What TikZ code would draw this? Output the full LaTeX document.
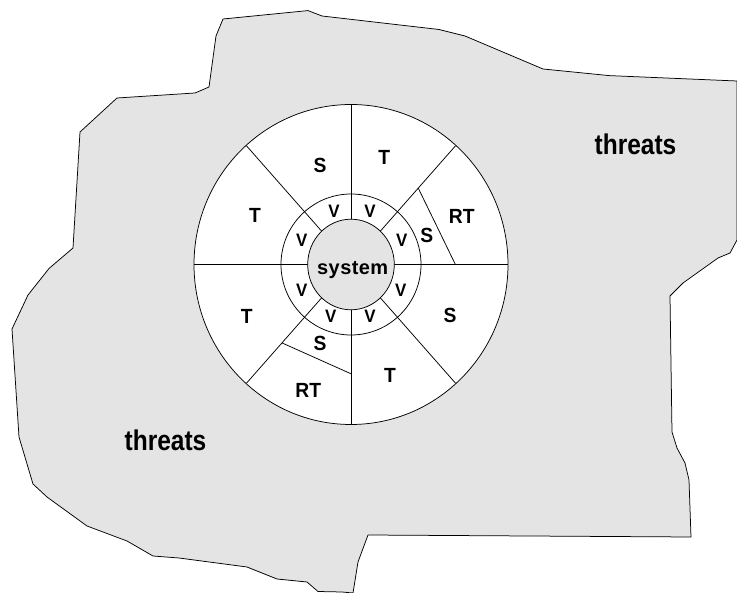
\documentclass[tikz,border=0pt]{standalone}
\usepackage{fontspec}
\setmainfont{Liberation Sans}
\newfontfamily\thrfont{Liberation Sans}[FakeStretch=0.86]
\newfontfamily\sysfont{Liberation Sans}[LetterSpace=2]
\newfontfamily\labfont{Liberation Sans}[FakeStretch=0.94]
\usetikzlibrary{calc,shapes.geometric}
\definecolor{bg}{RGB}{228,228,228}
\tikzset{
  edge/.style={draw=black, line width=0.75pt, line join=round},
  lab/.style={font=\labfont\bfseries\fontsize{20.5}{20.5}\selectfont, inner sep=0pt},
  vlab/.style={font=\labfont\bfseries\fontsize{18}{18}\selectfont, inner sep=0pt},
  thr/.style={font=\thrfont\bfseries\fontsize{28.5}{28.5}\selectfont, inner sep=0pt},
  sysl/.style={font=\sysfont\bfseries\fontsize{20}{20}\selectfont, inner sep=0pt}
}
\begin{document}
\begin{tikzpicture}[x=1pt,y=-1pt]
\useasboundingbox (0,0) rectangle (737,593);
% threat region
\path[edge, fill=bg] (223,19) -- (308,10.6) -- (322,16) -- (439,29.5) -- (465,36) -- (543,69) -- (609,75.6) -- (737,81) -- (737,240) -- (730,253) -- (718,258) -- (683,283) -- (670,296) -- (672,432) -- (677,448) -- (685,463) -- (689,480) -- (691,537) -- (368,535) -- (358,562) -- (353,593) -- (342,592) -- (318,591.5) -- (307,582) -- (277,579) -- (247,567) -- (179,558) -- (153,556) -- (127,541) -- (87,526) -- (47,497) -- (33,484) -- (19,437) -- (12,329) -- (28,295) -- (49,268.5) -- (73,248) -- (80,132) -- (117,98) -- (195,93) -- (209,87) -- (216,36) -- cycle;
% circles
\coordinate (C) at (351,264.5);
\path[edge, fill=white] (C) ellipse [x radius=157, y radius=160];
\coordinate (E) at ($(C)+(157,0)$);
\coordinate (W) at ($(C)+(-157,0)$);
\coordinate (N) at ($(C)+(0,-160)$);
\coordinate (S) at ($(C)+(0,160)$);
\coordinate (NE) at ($(C)+(104.6,-118.8)$);
\coordinate (NW) at ($(C)+(-104.6,-118.8)$);
\coordinate (SE) at ($(C)+(104.6,118.8)$);
\coordinate (SW) at ($(C)+(-104.6,118.8)$);
\foreach \p in {E,W,N,S,NE,NW,SE,SW} \draw[edge] (C) -- (\p);
\draw[edge] (C) ellipse [x radius=70, y radius=70.5];
% sub-sector lines
\coordinate (a1) at ($(C)!0.643!(NE)$);
\coordinate (a2) at ($(C)!0.665!(E)$);
\draw[edge] (a1) -- (a2);
\coordinate (b1) at ($(C)!0.66!(SW)$);
\coordinate (b2) at ($(C)!0.683!(S)$);
\draw[edge] (b1) -- (b2);
% system
\node[edge, fill=bg, ellipse, minimum width=86.6pt, minimum height=90.6pt, inner sep=0pt] (sys) at (C) {};
\node[sysl] (systxt) at (352.7,270) {system};
% V labels
\node[vlab] (v1) at (334,211) {V};
\node[vlab] (v2) at (370,211) {V};
\node[vlab] (v3) at (301.7,240) {V};
\node[vlab] (v4) at (401.7,240) {V};
\node[vlab] (v5) at (301.7,290) {V};
\node[vlab] (v6) at (400.7,290) {V};
\node[vlab] (v7) at (330.7,316.7) {V};
\node[vlab] (v8) at (370,316.7) {V};
% sector labels
\node[lab] (s1) at (320,165) {S};
\node[lab] (t1) at (384.3,157.3) {T};
\node[lab] (t2) at (255,215) {T};
\node[lab] (rt1) at (461.7,216.7) {RT};
\node[lab] (s2) at (426.7,235) {S};
\node[lab] (t3) at (246.7,316.7) {T};
\node[lab] (s3) at (450,315) {S};
\node[lab] (s4) at (320,343.3) {S};
\node[lab] (rt2) at (308.3,390) {RT};
\node[lab] (t4) at (390,375) {T};
% threats
\node[thr] (th1) at (635.5,144.5) {threats};
\node[thr] (th2) at (165.5,440.6) {threats};
\end{tikzpicture}
\end{document}
